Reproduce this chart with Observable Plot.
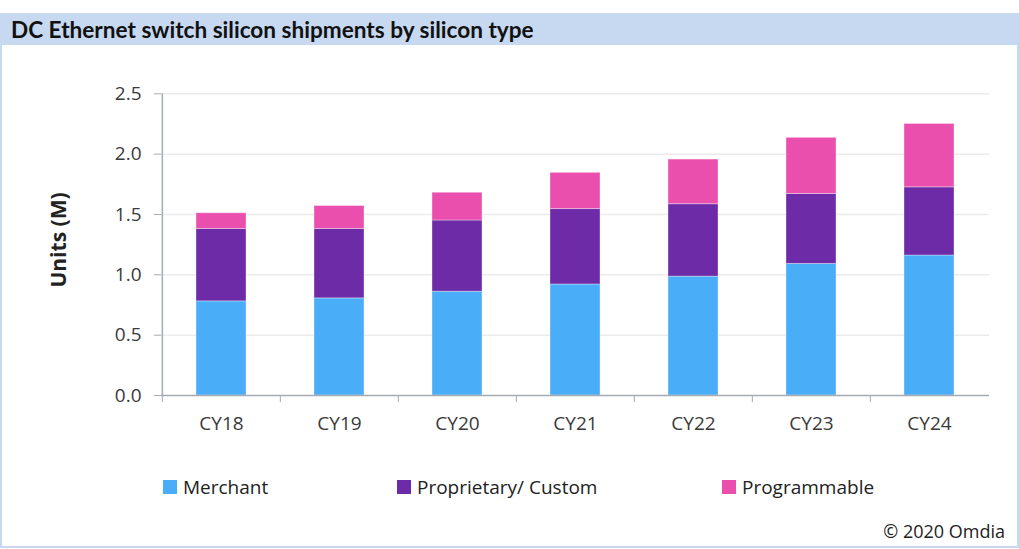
<!DOCTYPE html>
<html>
<head>
<meta charset="utf-8">
<script src="https://cdn.jsdelivr.net/npm/d3@7"></script>
<script src="https://cdn.jsdelivr.net/npm/@observablehq/plot@0.6"></script>
<style>
  html, body { margin: 0; padding: 0; background: #fff; }
  #wrap { position: relative; width: 1019px; height: 549px; overflow: hidden; font-family: "Open Sans", sans-serif; }
  #title { position: absolute; left: 0; top: 13px; width: 1019px; height: 32px; background: #c6d9f1;
           font-family: Lato, sans-serif; font-weight: 700; font-size: 22.6px; line-height: 34px; color: #111;
           padding-left: 11px; box-sizing: border-box; }
  #frame { position: absolute; left: 0; top: 13px; width: 1019px; height: 535px; box-sizing: border-box;
           border-left: 2px solid #c6d9f1; border-right: 2px solid #c6d9f1; border-bottom: 2px solid #c6d9f1; }
  #chart { position: absolute; left: 0; top: 45px; }
  #ylabel { position: absolute; left: 58px; top: 240px; transform: translate(-50%, -50%) rotate(-90deg);
            font-weight: 700; font-size: 21px; color: #222; white-space: nowrap; font-family: "Open Sans", sans-serif; }
  .leg { position: absolute; top: 474px; font-size: 19px; color: #222; display: flex; align-items: center; white-space: nowrap; }
  .sw { width: 14px; height: 14px; margin-right: 6px; }
  #copy { position: absolute; right: 14px; top: 519px; font-size: 18px; color: #222; }
</style>
</head>
<body>
<div id="wrap">
  <div id="frame"></div>
  <div id="title">DC Ethernet switch silicon shipments by silicon type</div>
  <div id="chart"></div>
  <div id="ylabel">Units (M)</div>
  <div id="legend"></div>
  <div id="copy">© 2020 Omdia</div>
</div>
<script>
const years = ["CY18", "CY19", "CY20", "CY21", "CY22", "CY23", "CY24"];
const series = ["Merchant", "Proprietary/ Custom", "Programmable"];
const merchant     = [0.78, 0.805, 0.86, 0.92, 0.985, 1.09, 1.16];
const proprietary  = [0.60, 0.575, 0.59, 0.625, 0.60, 0.58, 0.565];
const programmable = [0.13, 0.19, 0.23, 0.30, 0.37, 0.465, 0.525];
const yTicks = [0, 0.5, 1.0, 1.5, 2.0, 2.5];
const colors = ["#4aadf7", "#6e2ba7", "#eb4fae"];

const values = [merchant, proprietary, programmable];
const data = [];
years.forEach((y, i) => series.forEach((s, j) => data.push({year: y, series: s, value: values[j][i]})));

const W = 1019, H = 400, mL = 161, mR = 30, mT = 48.3, mB = 50;
const step = (W - mL - mR) / years.length;
const axisColor = "#a3abb5";
const textColor = "#3a3a3a";

const chart = Plot.plot({
  width: W, height: H,
  marginLeft: mL, marginRight: mR, marginTop: mT, marginBottom: mB,
  style: {fontFamily: "Open Sans, sans-serif", fontSize: "19px", color: textColor, background: "transparent"},
  x: {domain: years, paddingInner: 0.58, paddingOuter: 0.29, label: null},
  y: {domain: [0, yTicks[yTicks.length - 1]], label: null},
  color: {domain: series, range: colors},
  marks: [
    Plot.gridY(yTicks.filter(d => d > 0), {stroke: "#ebebeb", strokeOpacity: 1, strokeWidth: 1.5}),
    Plot.barY(data, {x: "year", y: "value", fill: "series", stroke: "#ffffff", strokeOpacity: 0.35, strokeWidth: 1}),
    Plot.ruleY([0], {stroke: axisColor, strokeWidth: 1.5}),
    Plot.ruleX([years[0]], {dx: -step / 2, y1: 0, y2: yTicks[yTicks.length - 1], stroke: axisColor, strokeWidth: 1.5}),
    Plot.axisY({ticks: yTicks, tickFormat: d3.format(".1f"), tickSize: 7, tickPadding: 13, stroke: axisColor, fill: textColor, fontSize: 19}),
    Plot.axisX({tickSize: 7, tickFormat: () => "", dx: -step / 2, stroke: axisColor}),
    Plot.axisX({tickSize: 0, tickPadding: 21, fill: textColor, fontSize: 19})
  ]
});
document.getElementById("chart").appendChild(chart);

const legPos = [163, 397, 722];
const legend = document.getElementById("legend");
series.forEach((s, i) => {
  const d = document.createElement("div");
  d.className = "leg";
  d.style.left = legPos[i] + "px";
  d.innerHTML = `<span class="sw" style="background:${colors[i]}"></span><span>${s}</span>`;
  legend.appendChild(d);
});
</script>
</body>
</html>
